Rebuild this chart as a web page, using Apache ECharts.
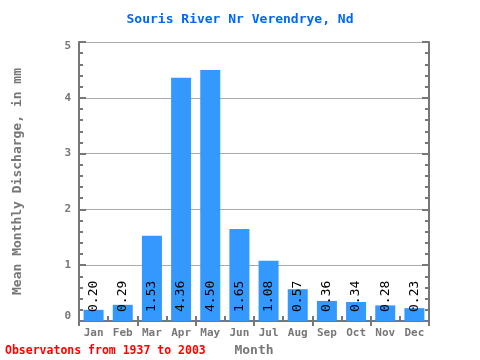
<!DOCTYPE html>
<html><head><meta charset="utf-8">
<script src="https://cdn.jsdelivr.net/npm/echarts@6/dist/echarts.min.js"></script>
<style>html,body{margin:0;padding:0;background:#fff}#c{width:480px;height:360px}</style>
</head><body><div id="c"></div>
<script>
var months = ['Jan','Feb','Mar','Apr','May','Jun','Jul','Aug','Sep','Oct','Nov','Dec'];
var discharge = [0.20, 0.29, 1.53, 4.36, 4.50, 1.65, 1.08, 0.57, 0.36, 0.34, 0.28, 0.23];
var yTicks = [0, 1, 2, 3, 4, 5];

var F = '"DejaVu Sans Mono", "Liberation Mono", monospace';
var axisCol = '#777777';
var chart = echarts.init(document.getElementById('c'));
var yBase = {
  type: 'value', min: yTicks[0], max: yTicks[yTicks.length-1], interval: 1,
  axisLine: {show: true, lineStyle: {color: axisCol, width: 2}},
  axisTick: {show: true, inside: true, length: 7, lineStyle: {color: axisCol, width: 2}},
  minorTick: {show: true, splitNumber: 5, length: 4, lineStyle: {color: axisCol, width: 2}}
};
var lblStyle = {fontFamily: F, fontSize: 11, fontWeight: 'bold', color: axisCol};
chart.setOption({
  animation: false,
  title: {
    text: 'Souris River Nr Verendrye, Nd', left: 'center', top: 8,
    textStyle: {fontFamily: F, fontSize: 13, fontWeight: 'bold', color: '#0066ff'}
  },
  graphic: [{
    type: 'text', left: 5, top: 345,
    style: {text: 'Observatons from 1937 to 2003', fill: '#ff0000', font: 'bold 11.5px ' + F}
  }],
  grid: {left: 79, right: 51, top: 42, bottom: 39, containLabel: false, outerBoundsMode: 'none'},
  xAxis: [{
    type: 'category', data: months, position: 'bottom',
    name: 'Month', nameLocation: 'middle', nameGap: 21,
    nameTextStyle: {fontFamily: F, fontSize: 13, fontWeight: 'bold', color: axisCol},
    axisLine: {show: true, lineStyle: {color: axisCol, width: 2}},
    axisTick: {show: true, inside: true, length: 5, lineStyle: {color: axisCol, width: 2}},
    axisLabel: {fontFamily: F, fontSize: 11, fontWeight: 'bold', color: axisCol, margin: 7}
  }, {
    type: 'category', data: months, position: 'top',
    axisLine: {show: true, lineStyle: {color: axisCol, width: 2}},
    axisTick: {show: true, inside: true, length: 5, lineStyle: {color: axisCol, width: 2}},
    axisLabel: {show: false}
  }],
  yAxis: [Object.assign({}, yBase, {
    position: 'left',
    name: 'Mean Monthly Discharge, in mm', nameLocation: 'middle', nameGap: 55,
    nameTextStyle: {fontFamily: F, fontSize: 13, fontWeight: 'bold', color: axisCol},
    axisLabel: Object.assign({}, lblStyle, {
      margin: 8,
      formatter: function(v){
        if (v === yTicks[0]) return '{lo|' + v + '}';
        if (v === yTicks[yTicks.length-1]) return '{hi|' + v + '}';
        return '{m|' + v + '}';
      },
      rich: {
        lo: Object.assign({}, lblStyle, {padding: [0,0,10,0]}),
        hi: Object.assign({}, lblStyle, {padding: [8,0,0,0]}),
        m: Object.assign({}, lblStyle)
      }
    }),
    splitLine: {show: true, lineStyle: {color: '#aaaaaa', width: 1}}
  }), Object.assign({}, yBase, {
    position: 'right', axisLabel: {show: false}, splitLine: {show: false}
  })],
  series: [{
    type: 'bar', data: discharge, barWidth: 20, xAxisIndex: 0, yAxisIndex: 0,
    itemStyle: {color: '#3399ff'},
    label: {
      show: true, position: 'insideBottom', rotate: 90, align: 'left', verticalAlign: 'middle',
      distance: 9, fontFamily: F, fontSize: 13, color: '#000',
      formatter: function(p){ return p.value.toFixed(2); }
    }
  }]
});
</script></body></html>
